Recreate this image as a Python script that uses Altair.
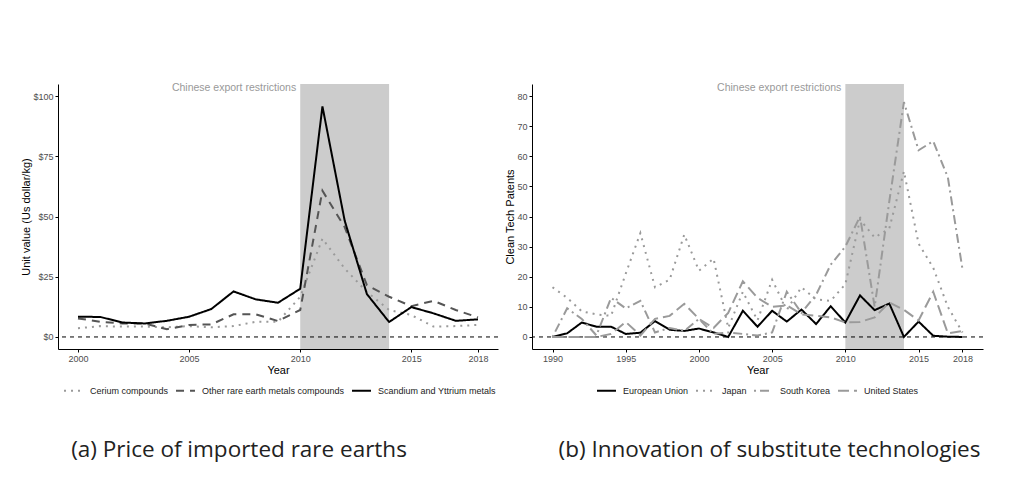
import altair as alt
import pandas as pd

# ---------- Panel (a): price of imported rare earths ----------
years_a = list(range(2000, 2019))
cerium = [3.6, 4.5, 4.3, 4.3, 4.0, 4.5, 4.0, 4.5, 6.3, 6.3, 16.7, 40.8, 28.4, 18.7, 11.2, 9.1, 4.3, 4.5, 5.0]
other_re = [7.7, 6.3, 5.6, 5.6, 3.2, 5.0, 5.2, 9.4, 9.4, 6.6, 11.2, 60.7, 45.6, 21.5, 16.7, 12.8, 15.0, 11.2, 8.1]
scandium = [8.4, 8.3, 6.0, 5.6, 6.7, 8.4, 11.6, 18.9, 15.6, 14.2, 20.0, 95.7, 48.3, 17.8, 6.2, 12.4, 9.8, 6.7, 7.3]
series_a = ["Cerium compounds", "Other rare earth metals compounds", "Scandium and Yttrium metals"]
ticks_xa = [2000, 2005, 2010, 2015, 2018]
ticks_ya = [0, 25, 50, 75, 100]

# ---------- Panel (b): innovation of substitute technologies ----------
years_b = list(range(1990, 2019))
eu = [0, 1.2, 4.8, 3.4, 3.4, 1.0, 1.4, 5.3, 2.4, 2.0, 2.8, 1.5, 0, 8.7, 3.4, 8.7, 5.1, 9.1, 4.3, 10.2,
      4.8, 13.8, 8.9, 11.1, 0, 5.1, 0.4, 0.1, 0]
japan = [16.5, 13, 8.5, 7.5, 7, 21, 34.5, 16.5, 19, 34, 22, 26, 3, 15, 5.5, 19, 9, 16.5, 12.5, 12,
         17.5, 39, 33, 36, 55, 31, 23, 10, 1.5]
korea = [0, 9.5, 6, 0.5, 13, 9.5, 12, 1.5, 3, 2, 6, 1, 1.5, 1, 0.5, 1.5, 15, 8, 14, 24,
         30, 40, 10, 45, 78, 62, 65, 53, 22.5]
usa = [0, 0, 0, 0, 1, 5, 0.5, 6, 7, 11, 6, 3, 8, 18.5, 13, 10, 10.5, 7.5, 7, 6.5,
       4.8, 5, 6.5, 11.5, 9, 5.5, 15, 1.2, 2]
series_b = ["European Union", "Japan", "South Korea", "United States"]
ticks_xb = [1990, 1995, 2000, 2005, 2010, 2015, 2018]
ticks_yb = [0, 10, 20, 30, 40, 50, 60, 70, 80]

restriction = {"year": [2010], "year2": [2014]}
annot_label = "Chinese export restrictions"

df_a = pd.DataFrame({
    "year": years_a * 3,
    "value": cerium + other_re + scandium,
    "series": [s for s in series_a for _ in years_a],
})
df_b = pd.DataFrame({
    "year": years_b * 4,
    "value": eu + japan + korea + usa,
    "series": [s for s in series_b for _ in years_b],
})

W_A, W_B, H = 440, 451, 265


def panel(df, series, colors, dashes, xdom, ydom, xticks, yticks, ytitle, ylabel_expr,
          annot_y, caption, width, cap_dx, leg_x):
    xenc = dict(scale=alt.Scale(domain=xdom, nice=False, zero=False),
                axis=alt.Axis(values=xticks, format="d", title="Year"))
    yenc = dict(scale=alt.Scale(domain=ydom, nice=False, zero=False),
                axis=alt.Axis(values=yticks, labelExpr=ylabel_expr, title=ytitle))

    rect = alt.Chart(pd.DataFrame(restriction)).mark_rect(color="#cccccc").encode(
        x=alt.X("year:Q", **xenc), x2="year2:Q")

    zero = alt.Chart(pd.DataFrame({"value": [0]})).mark_rule(
        color="black", strokeDash=[4, 4], strokeWidth=1).encode(
        y=alt.Y("value:Q", **yenc))

    leg = alt.Legend(title=None, orient="none", legendX=leg_x, legendY=296,
                     direction="horizontal", padding=0,
                     symbolType="stroke", symbolSize=360, symbolStrokeWidth=2,
                     labelFontSize=9, labelColor="#222", labelFont="Liberation Sans",
                     columnPadding=3, labelOffset=6)
    lines = alt.Chart(df).mark_line(strokeWidth=2).encode(
        x=alt.X("year:Q", **xenc),
        y=alt.Y("value:Q", **yenc),
        color=alt.Color("series:N", scale=alt.Scale(domain=series, range=colors), legend=leg),
        strokeDash=alt.StrokeDash("series:N", scale=alt.Scale(domain=series, range=dashes), legend=leg),
    )

    text = alt.Chart(pd.DataFrame({"year": [2010], "value": [annot_y], "label": [annot_label]})).mark_text(
        align="right", baseline="middle", dx=-4, color="#999999", fontSize=10.5,
        font="Liberation Sans").encode(
        x=alt.X("year:Q", **xenc), y=alt.Y("value:Q", **yenc), text="label:N")

    return alt.layer(rect, zero, lines, text).properties(
        width=width, height=H,
        title=alt.TitleParams(caption, orient="bottom", anchor="middle", fontSize=22.5,
                              font="Open Sans", fontWeight="normal", color="#222222",
                              offset=43, dx=cap_dx),
    )


left = panel(df_a, series_a, ["#9a9a9a", "#555555", "#000000"],
             [[2, 5], [8, 6], [1, 0]], [1999.1, 2018.9], [-5, 105], ticks_xa, ticks_ya,
             "Unit value (Us dollar/kg)", "'$' + datum.value", 103.3,
             "(a) Price of imported rare earths", W_A, -39, 5)

right = panel(df_b, series_b, ["#000000", "#9a9a9a", "#9a9a9a", "#9a9a9a"],
              [[1, 0], [2, 5], [2, 4, 9, 4], [11, 5]], [1988.6, 2019.4], [-4, 84], ticks_xb, ticks_yb,
              "Clean Tech Patents", "datum.label", 82.6,
              "(b) Innovation of substitute technologies", W_B, 12, 64)

chart = alt.hconcat(left, right, spacing=5).resolve_scale(
    color="independent", strokeDash="independent", x="independent", y="independent"
).resolve_legend(color="independent", strokeDash="independent").properties(
    padding={"left": 12, "top": 75, "right": 5, "bottom": 5}
).configure_view(stroke=None).configure_axis(
    grid=False, domainColor="black", domainWidth=1, tickColor="black", tickSize=3,
    labelColor="#4d4d4d", labelFontSize=9, labelFont="Liberation Sans",
    titleFont="Liberation Sans", titleFontSize=11, titleFontWeight="normal", titleColor="black",
    labelPadding=2, titlePadding=1,
)

chart.save("out.html", embed_options={"renderer": "svg", "actions": False})
